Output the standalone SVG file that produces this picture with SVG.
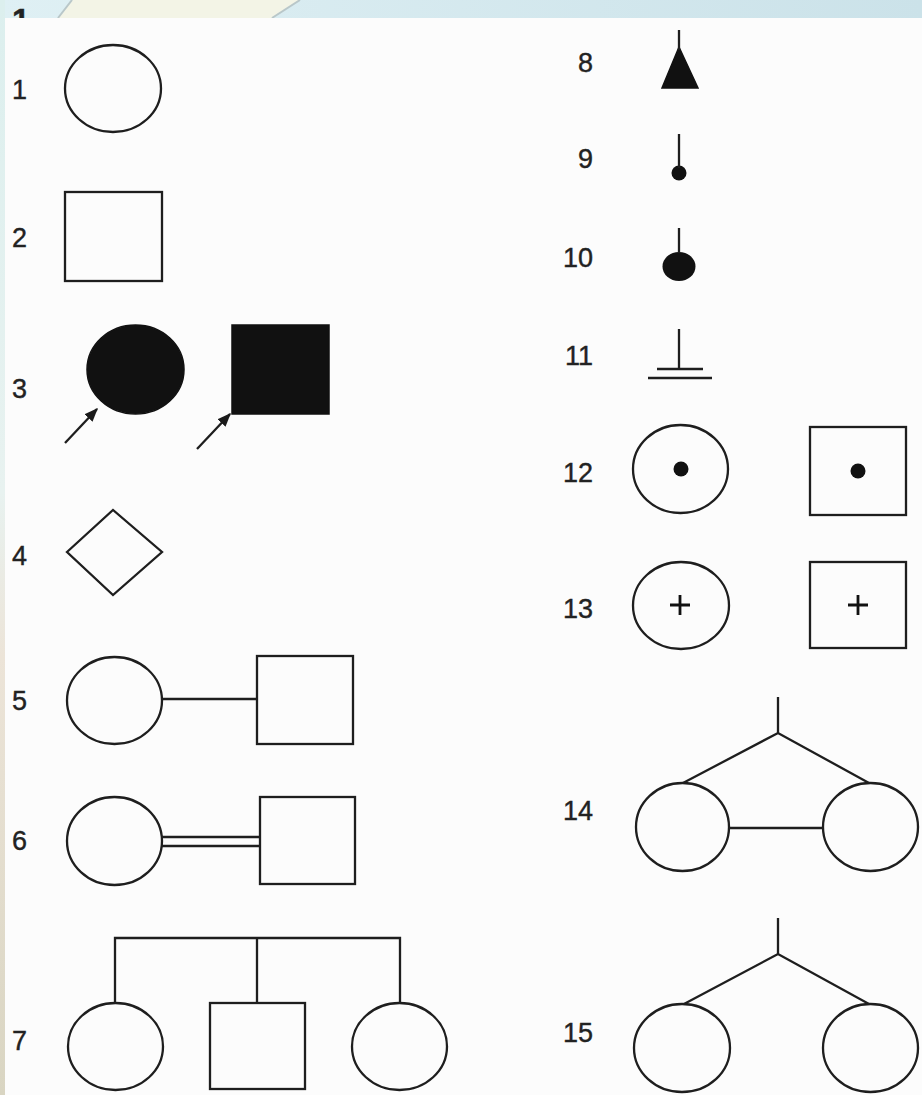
<svg xmlns="http://www.w3.org/2000/svg" width="922" height="1095" viewBox="0 0 922 1095">
  <defs>
    <linearGradient id="band" x1="0" y1="0" x2="1" y2="0">
      <stop offset="0" stop-color="#dff0f4"/>
      <stop offset="1" stop-color="#cbe2e9"/>
    </linearGradient>
    <linearGradient id="side" x1="0" y1="0" x2="0" y2="1">
      <stop offset="0" stop-color="#dcefee"/>
      <stop offset="0.45" stop-color="#e8f2f0"/>
      <stop offset="0.6" stop-color="#ece4d8"/>
      <stop offset="1" stop-color="#d9d5c2"/>
    </linearGradient>
    <marker id="arr" viewBox="0 0 10 10" refX="9" refY="5" markerWidth="6" markerHeight="6" orient="auto" markerUnits="strokeWidth">
      <path d="M0,1 L10,5 L0,9 Z" fill="#1a1a1a"/>
    </marker>
    <style>
      .s { fill: none; stroke: #1e1e1e; stroke-width: 2.3; }
      .f { fill: #111; stroke: #111; stroke-width: 1.5; }
      .l { fill: none; stroke: #1e1e1e; stroke-width: 2.3; }
      .p { fill: none; stroke: #111; stroke-width: 2.8; }
      .n { font-family: "Liberation Sans", Arial, sans-serif; font-size: 27px; fill: #222; stroke: #222; stroke-width: 0.4; }
      .nl { text-anchor: end; }
    </style>
  </defs>

  <!-- background -->
  <rect x="0" y="0" width="922" height="1095" fill="#fcfcfc"/>
  <rect x="0" y="0" width="922" height="18" fill="url(#band)"/>
  <polygon points="58,18 72,0 300,0 272,18" fill="#f3f4e6"/>
  <line x1="58" y1="18" x2="72" y2="0" stroke="#b9c7c9" stroke-width="2"/>
  <line x1="272" y1="18" x2="300" y2="0" stroke="#b9c7c9" stroke-width="2"/>
  <rect x="0" y="0" width="5" height="1095" fill="url(#side)"/>
  <text x="12" y="31" class="n" style="font-size:32px;font-weight:bold">1</text>
  <rect x="5" y="18" width="917" height="1077" fill="#fcfcfc"/>

  <!-- labels -->
  <g id="labels">
    <text x="27" y="99" class="n nl">1</text>
    <text x="27" y="247" class="n nl">2</text>
    <text x="27" y="398" class="n nl">3</text>
    <text x="27" y="565" class="n nl">4</text>
    <text x="27" y="710" class="n nl">5</text>
    <text x="27" y="850" class="n nl">6</text>
    <text x="27" y="1050" class="n nl">7</text>
    <text x="593" y="72" class="n nl">8</text>
    <text x="593" y="168" class="n nl">9</text>
    <text x="593" y="267" class="n nl">10</text>
    <text x="593" y="365" class="n nl">11</text>
    <text x="593" y="482" class="n nl">12</text>
    <text x="593" y="618" class="n nl">13</text>
    <text x="593" y="820" class="n nl">14</text>
    <text x="593" y="1042" class="n nl">15</text>
  </g>

  <!-- 1 -->
  <g id="n1"><ellipse cx="113" cy="88.5" rx="48" ry="43.5" class="s"/></g>
  <!-- 2 -->
  <g id="n2"><rect x="65" y="192" width="97" height="89" class="s"/></g>
  <!-- 3 -->
  <g id="n3a"><ellipse cx="135.5" cy="369.5" rx="48.5" ry="44.5" class="f"/></g>
  <g id="n3b"><rect x="232" y="325" width="97" height="89" class="f"/></g>
  <!-- 4 -->
  <g id="n4"><polygon points="67,552 113,510 162,552 113,595" class="s"/></g>
  <!-- 5 -->
  <g id="n5a"><ellipse cx="114.5" cy="700.5" rx="47.5" ry="43.5" class="s"/></g>
  <g id="n5b"><rect x="257" y="656" width="96" height="88" class="s"/></g>
  <!-- 6 -->
  <g id="n6a"><ellipse cx="114.5" cy="841" rx="47.5" ry="44" class="s"/></g>
  <g id="n6b"><rect x="260" y="797" width="95" height="87" class="s"/></g>
  <!-- 7 -->
  <g id="n7a"><ellipse cx="115.5" cy="1046.5" rx="47.5" ry="43.5" class="s"/></g>
  <g id="n7b"><rect x="210" y="1003" width="95" height="86" class="s"/></g>
  <g id="n7c"><ellipse cx="399.5" cy="1046.5" rx="47.5" ry="43.5" class="s"/></g>
  <!-- 8 -->
  <g id="n8"><polygon points="679,47 662,88 698,88" class="f"/></g>
  <!-- 9 -->
  <g id="n9"><circle cx="679" cy="173" r="7.5" fill="#111"/></g>
  <!-- 10 -->
  <g id="n10"><ellipse cx="679" cy="266.5" rx="16.5" ry="14.5" fill="#111"/></g>
  <!-- 11 -->
  <g id="n11">
    <line x1="657" y1="369" x2="703" y2="369" class="l"/>
    <line x1="648" y1="378" x2="712" y2="378" class="l"/>
  </g>
  <!-- 12 -->
  <g id="n12a"><ellipse cx="680.5" cy="469" rx="47.5" ry="44" class="s"/><circle cx="681" cy="469" r="7.5" fill="#111"/></g>
  <g id="n12b"><rect x="810" y="427" width="96" height="88" class="s"/><circle cx="858" cy="471" r="7.5" fill="#111"/></g>
  <!-- 13 -->
  <g id="n13a"><ellipse cx="681" cy="605.5" rx="48" ry="43.5" class="s"/><path d="M670,605 H690 M680,595 V615" class="p"/></g>
  <g id="n13b"><rect x="810" y="562" width="96" height="86" class="s"/><path d="M848,605 H868 M858,595 V615" class="p"/></g>
  <!-- 14 -->
  <g id="n14a"><ellipse cx="682.5" cy="827" rx="46.5" ry="44" class="s"/></g>
  <g id="n14b"><ellipse cx="870.5" cy="827" rx="47.5" ry="44" class="s"/></g>
  <!-- 15 -->
  <g id="n15a"><ellipse cx="682" cy="1048" rx="48" ry="44" class="s"/></g>
  <g id="n15b"><ellipse cx="870.5" cy="1048" rx="47.5" ry="44" class="s"/></g>

  <!-- connectors -->
  <g id="connectors">
    <line x1="65" y1="443" x2="97" y2="409" class="l" marker-end="url(#arr)"/>
    <line x1="197" y1="449" x2="230" y2="414" class="l" marker-end="url(#arr)"/>
    <line x1="162" y1="699" x2="257" y2="699" class="l"/>
    <line x1="162" y1="837" x2="260" y2="837" class="l"/>
    <line x1="162" y1="846" x2="260" y2="846" class="l"/>
    <path d="M115,1003 V938 H400 V1003 M257,938 V1003" class="l"/>
    <line x1="679" y1="30" x2="679" y2="50" class="l"/>
    <line x1="679" y1="134" x2="679" y2="168" class="l"/>
    <line x1="679" y1="228" x2="679" y2="253" class="l"/>
    <line x1="679" y1="329" x2="679" y2="369" class="l"/>
    <path d="M778,697 V733 M683,783 L778,733 L869,783" class="l"/>
    <line x1="729" y1="828" x2="823" y2="828" class="l"/>
    <path d="M778,918 V954 M684,1004 L778,954 L869,1004" class="l"/>
  </g>
</svg>
